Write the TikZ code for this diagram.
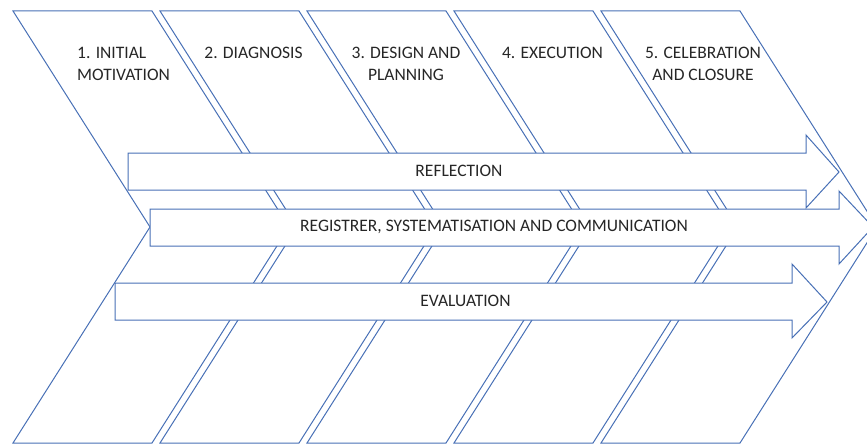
\documentclass[tikz,border=0pt]{standalone}
\usepackage{fontspec}
\setmainfont{Carlito}
\definecolor{edgeblue}{RGB}{72,112,182}
\definecolor{labelgray}{RGB}{38,38,38}
\begin{document}
\begin{tikzpicture}[x=1pt,y=-1pt,
  chevron/.style={draw=edgeblue,line width=1pt,line join=miter},
  band/.style={draw=edgeblue,fill=white,line width=1pt,line join=miter},
  phase/.style={text=labelgray,font=\fontsize{17.5}{21.5}\selectfont,inner sep=0pt,align=center},
  bandlabel/.style={text=labelgray,font=\fontsize{17.5}{21.5}\selectfont,inner sep=0pt}]
\useasboundingbox (0,0) rectangle (867,444);
\begin{scope}
\clip (0,0) rectangle (867,444);
% five chevron stages
\foreach \i in {0,...,4}{
  \pgfmathsetmacro\xa{13+147*\i}
  \draw[chevron] (\xa,11) -- ++(139,0) -- ++(137,216) -- ++(-137,216)
    -- ++(-139,0) -- ++(137,-216) -- cycle;
}
% three cross-cutting block arrows
\draw[band] (128,153) -- (806,153) -- (806,135) -- (839,172) -- (806,208)
  -- (806,190) -- (128,190) -- cycle;
\draw[band] (150,209) -- (839,209) -- (839,191) -- (873,227) -- (839,264)
  -- (839,246) -- (150,246) -- cycle;
\draw[band] (115,283) -- (792,283) -- (792,264) -- (827,302) -- (792,338)
  -- (792,320) -- (115,320) -- cycle;
\end{scope}
% stage titles
\node[phase,align=left,anchor=west] (s1) at (77,64) {1. INITIAL\\MOTIVATION};
\node[phase,anchor=base] (s2) at (253.5,59) {2. DIAGNOSIS};
\node[phase] (s3) at (406,64) {3. DESIGN AND\\PLANNING};
\node[phase,anchor=base] (s4) at (552.5,59) {4. EXECUTION};
\node[phase] (s5) at (703,64) {5. CELEBRATION\\AND CLOSURE};
% arrow labels
\node[bandlabel] (reflection) at (459,171) {REFLECTION};
\node[bandlabel] (registration) at (494,227) {REGISTRER, SYSTEMATISATION AND COMMUNICATION};
\node[bandlabel] (evaluation) at (465.5,301) {EVALUATION};
\end{tikzpicture}
\end{document}
